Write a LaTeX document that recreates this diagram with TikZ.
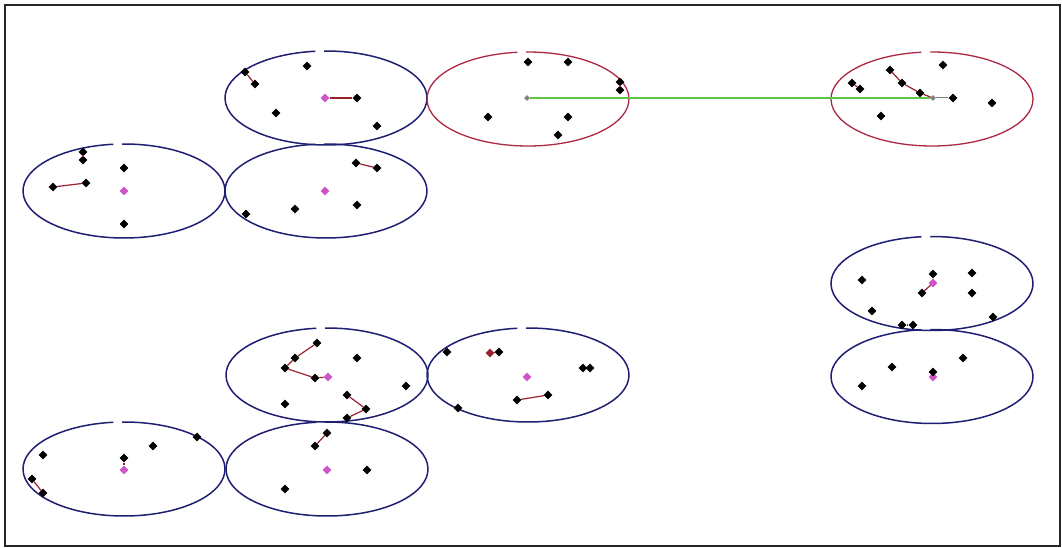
\documentclass[tikz,border=0pt]{standalone}
\usepackage{xcolor}
\usetikzlibrary{shapes.geometric}
\definecolor{navyline}{RGB}{30,30,115}
\definecolor{redline}{RGB}{170,40,65}
\definecolor{linkred}{RGB}{150,35,45}
\definecolor{ctrpink}{RGB}{205,85,200}
\definecolor{meangreen}{RGB}{95,195,70}
\newcommand{\cellipse}[3]{\draw[#1] (#2,#3) ++(269:101 and 47) arc (269:624:101 and 47);}

\begin{document}
\begin{tikzpicture}[x=1pt,y=-1pt,
  clb/.style={draw=navyline,line width=1.5pt},
  clr/.style={draw=redline,line width=1.3pt},
  obj/.style={diamond,fill=black,inner sep=0pt,minimum size=9pt},
  ctr/.style={diamond,fill=ctrpink,inner sep=0pt,minimum size=9pt},
  gctr/.style={diamond,fill=gray,inner sep=0pt,minimum size=6pt},
  link/.style={draw=linkred,line width=1.2pt}]
\useasboundingbox (0,0) rectangle (1062,548);
\draw[line width=2pt,black!85] (5,5) rectangle (1060,545.5);
\cellipse{clb}{326}{98}
\cellipse{clb}{124}{191}
\cellipse{clb}{326}{191}
\cellipse{clr}{528}{99}
\cellipse{clr}{932}{99}
\cellipse{clb}{932}{283.5}
\cellipse{clb}{932}{376.5}
\cellipse{clb}{327}{375}
\cellipse{clb}{124}{469}
\cellipse{clb}{327}{469}
\cellipse{clb}{528}{375}
\node[ctr] (cA) at (325,98) {};
\node[obj] (a1) at (307,66) {};
\node[obj] (a2) at (245,72) {};
\node[obj] (a3) at (255,84) {};
\node[obj] (a4) at (276,113) {};
\node[obj] (a5) at (357,98) {};
\node[obj] (a6) at (377,126) {};
\draw[link] (a2) -- (a3);
\draw[link] (cA) -- (a5);
\node[ctr] (cB) at (124,191) {};
\node[obj] (b1) at (83,152) {};
\node[obj] (b2) at (83,160) {};
\node[obj] (b3) at (124,168) {};
\node[obj] (b4) at (53,187) {};
\node[obj] (b5) at (86,183) {};
\node[obj] (b6) at (124,224) {};
\draw[link] (b1) -- (b2);
\draw[link] (b4) -- (b5);
\node[ctr] (cC) at (325,191) {};
\node[obj] (c1) at (356,163) {};
\node[obj] (c2) at (377,168) {};
\node[obj] (c3) at (295,209) {};
\node[obj] (c4) at (357,205) {};
\node[obj] (c5) at (246,214) {};
\draw[link] (c1) -- (c2);
\node[gctr] (cD) at (527,98) {};
\node[obj] (d1) at (528,62) {};
\node[obj] (d2) at (568,62) {};
\node[obj] (d3) at (620,82) {};
\node[obj] (d4) at (620,90) {};
\node[obj] (d5) at (488,117) {};
\node[obj] (d6) at (568,117) {};
\node[obj] (d7) at (558,135) {};
\draw[link] (d3) -- (d4);
\node[gctr] (cE) at (933,98) {};
\node[obj] (e1) at (943,65) {};
\node[obj] (e2) at (890,70) {};
\node[obj] (e3) at (902,83) {};
\node[obj] (e4) at (920,93) {};
\node[obj] (e5) at (953,98) {};
\node[obj] (e6) at (852,83) {};
\node[obj] (e7) at (860,89) {};
\node[obj] (e8) at (992,103) {};
\node[obj] (e9) at (881,116) {};
\draw[link] (e2) -- (e3) -- (e4) -- (cE);
\draw[link] (e6) -- (e7);
\draw[gray,line width=1pt] (cE) -- (e5);
\draw[meangreen,line width=2pt] (cD) -- (cE);
\node[ctr] (cF) at (933,283) {};
\node[obj] (f1) at (862,280) {};
\node[obj] (f2) at (933,274) {};
\node[obj] (f3) at (922,293) {};
\node[obj] (f4) at (972,273) {};
\node[obj] (f5) at (972,293) {};
\node[obj] (f6) at (872,311) {};
\node[obj] (f7) at (993,317) {};
\node[obj] (f8) at (902,325) {};
\node[obj] (f9) at (913,325) {};
\draw[link] (f3) -- (cF);
\draw[link] (f8) -- (f9);
\node[ctr] (cG) at (933,377) {};
\node[obj] (g1) at (892,367) {};
\node[obj] (g2) at (963,358) {};
\node[obj] (g3) at (933,372) {};
\node[obj] (g4) at (862,386) {};
\node[ctr] (cH) at (328,377) {};
\node[obj] (h1) at (317,343) {};
\node[obj] (h2) at (295,358) {};
\node[obj] (h3) at (285,368) {};
\node[obj] (h4) at (315,378) {};
\node[obj] (h5) at (357,358) {};
\node[obj] (h6) at (406,386) {};
\node[obj] (h7) at (285,404) {};
\node[obj] (h8) at (347,395) {};
\node[obj] (h9) at (366,409) {};
\node[obj] (h10) at (347,418) {};
\draw[link] (h1) -- (h2) -- (h3) -- (h4) -- (cH);
\draw[link] (h8) -- (h9) -- (h10);
\node[ctr] (cJ) at (327,470) {};
\node[obj] (j1) at (327,433) {};
\node[obj] (j2) at (315,446) {};
\node[obj] (j3) at (367,470) {};
\node[obj] (j4) at (285,489) {};
\draw[link] (j1) -- (j2);
\node[ctr] (cI) at (124,470) {};
\node[obj] (i1) at (153,446) {};
\node[obj] (i2) at (197,437) {};
\node[obj] (i3) at (43,455) {};
\node[obj] (i4) at (124,458) {};
\node[obj] (i5) at (32,479) {};
\node[obj] (i6) at (43,493) {};
\draw[link] (i4) -- (cI);
\draw[link] (i5) -- (i6);
\node[ctr] (cK) at (527,377) {};
\node[obj] (k1) at (447,352) {};
\node[obj,fill=linkred] (k2) at (490,353) {};
\node[obj] (k3) at (499,352) {};
\node[obj] (k4) at (583,368) {};
\node[obj] (k5) at (590,368) {};
\node[obj] (k6) at (517,400) {};
\node[obj] (k7) at (548,395) {};
\node[obj] (k8) at (458,408) {};
\draw[link] (k2) -- (k3);
\draw[link] (k6) -- (k7);
\end{tikzpicture}
\end{document}
